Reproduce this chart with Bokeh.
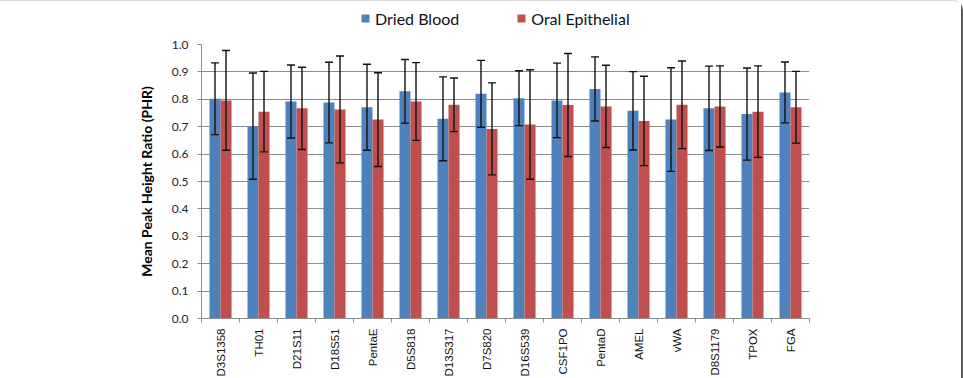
import numpy as np
from bokeh.plotting import figure
from bokeh.layouts import column
from bokeh.models import (ColumnDataSource, Whisker, TeeHead, Legend, LegendItem,
                          FixedTicker, Range1d)
from bokeh.embed import file_html
from bokeh.resources import INLINE

# STR loci and mean peak height ratios (with standard deviations)
loci = ["D3S1358", "TH01", "D21S11", "D18S51", "PentaE", "D5S818", "D13S317",
        "D7S820", "D16S539", "CSF1PO", "PentaD", "AMEL", "vWA", "D8S1179",
        "TPOX", "FGA"]
blood_mean = [0.802, 0.702, 0.792, 0.788, 0.771, 0.829, 0.729, 0.820,
              0.804, 0.796, 0.838, 0.758, 0.726, 0.767, 0.746, 0.825]
blood_sd = [0.131, 0.194, 0.133, 0.147, 0.157, 0.116, 0.153, 0.122,
            0.100, 0.136, 0.117, 0.143, 0.189, 0.154, 0.168, 0.111]
oral_mean = [0.796, 0.755, 0.767, 0.763, 0.726, 0.792, 0.780, 0.692,
             0.708, 0.779, 0.774, 0.721, 0.780, 0.774, 0.755, 0.771]
oral_sd = [0.182, 0.147, 0.150, 0.195, 0.171, 0.142, 0.098, 0.168,
           0.200, 0.188, 0.150, 0.163, 0.160, 0.148, 0.167, 0.131]
series_names = ["Dried Blood", "Oral Epithelial"]
y_ticks = [round(0.1 * i, 1) for i in range(11)]

BLUE = "#4F81BD"
RED = "#C0504D"
GRID = "#8C8C8C"
OFFSET = 0.145
BAR_W = 0.29
W = 961

centers = np.arange(len(loci)) + 0.5
blood_mean_a = np.array(blood_mean)
blood_sd_a = np.array(blood_sd)
oral_mean_a = np.array(oral_mean)
oral_sd_a = np.array(oral_sd)

blood_src = ColumnDataSource(dict(
    x=centers - OFFSET, top=blood_mean_a,
    upper=blood_mean_a + blood_sd_a, lower=blood_mean_a - blood_sd_a))
oral_src = ColumnDataSource(dict(
    x=centers + OFFSET, top=oral_mean_a,
    upper=oral_mean_a + oral_sd_a, lower=oral_mean_a - oral_sd_a))

# ---- main bar chart ----
p = figure(width=W, height=348, output_backend="svg", toolbar_location=None,
           x_range=Range1d(0, len(loci)), y_range=Range1d(0, 1.0),
           min_border_left=201, min_border_right=152, min_border_top=13,
           min_border_bottom=58)
p.outline_line_color = None
p.background_fill_color = "white"
p.border_fill_color = "white"

p.vbar(x="x", top="top", bottom=0, width=BAR_W, source=blood_src,
       fill_color=BLUE, line_color=None)
p.vbar(x="x", top="top", bottom=0, width=BAR_W, source=oral_src,
       fill_color=RED, line_color=None)

for src in (blood_src, oral_src):
    w = Whisker(source=src, base="x", upper="upper", lower="lower",
                dimension="height", line_color="#111111", line_width=1.4,
                upper_head=TeeHead(size=8, line_color="#111111", line_width=1.4),
                lower_head=TeeHead(size=8, line_color="#111111", line_width=1.4),
                level="annotation")
    p.add_layout(w)

# y axis
p.yaxis.ticker = FixedTicker(ticks=y_ticks)
p.yaxis.major_label_overrides = {t: f"{t:.1f}" for t in y_ticks}
p.yaxis.major_label_text_font = "Lato"
p.yaxis.major_label_text_font_size = "12px"
p.yaxis.major_label_text_color = "#222222"
p.yaxis.major_label_standoff = 9
p.yaxis.major_tick_in = 0
p.yaxis.major_tick_out = 4
p.yaxis.minor_tick_line_color = None
p.yaxis.axis_line_color = GRID
p.yaxis.major_tick_line_color = GRID
p.yaxis.axis_label = "Mean Peak Height Ratio (PHR)"
p.yaxis.axis_label_text_font = "Lato"
p.yaxis.axis_label_text_font_style = "bold"
p.yaxis.axis_label_text_font_size = "14px"
p.yaxis.axis_label_text_color = "#000000"
p.yaxis.axis_label_standoff = 14

# x axis: labels at locus centres, small ticks on the boundaries
p.xaxis.ticker = FixedTicker(ticks=list(centers),
                             minor_ticks=list(range(len(loci) + 1)))
p.xaxis.major_label_overrides = {float(c): name for c, name in zip(centers, loci)}
p.xaxis.major_label_orientation = np.pi / 2
p.xaxis.major_label_text_font = "Liberation Sans"
p.xaxis.major_label_text_font_size = "11.5px"
p.xaxis.major_label_text_color = "#111111"
p.xaxis.major_label_standoff = 6
p.xaxis.major_tick_in = 0
p.xaxis.major_tick_out = 0
p.xaxis.minor_tick_in = 0
p.xaxis.minor_tick_out = 4
p.xaxis.minor_tick_line_color = GRID
p.xaxis.axis_line_color = GRID

p.xgrid.grid_line_color = None
p.ygrid.grid_line_color = GRID
p.ygrid.grid_line_width = 1

# ---- legend strip above the chart (its frame lines up with the chart's) ----
lg = figure(width=W, height=30, output_backend="svg", toolbar_location=None,
            x_range=Range1d(0, 1), y_range=Range1d(0, 1),
            min_border=0)
lg.outline_line_color = None
lg.axis.visible = False
lg.grid.grid_line_color = None
# zero-height swatches, only used as legend keys
kb = lg.vbar(x=[0.5], top=[0.0], width=0.1, fill_color=BLUE, line_color=None)
kr = lg.vbar(x=[0.5], top=[0.0], width=0.1, fill_color=RED, line_color=None)

legend = Legend(items=[LegendItem(label=series_names[0], renderers=[kb]),
                       LegendItem(label=series_names[1], renderers=[kr])],
                orientation="horizontal", location=(159, 3),
                glyph_width=10, glyph_height=10, label_standoff=5,
                label_height=20, spacing=57, padding=0, margin=0,
                label_text_font="Lato", label_text_font_size="16px",
                label_text_color="#111111",
                border_line_color=None, background_fill_alpha=0)
lg.add_layout(legend, "center")

page = column(lg, p, spacing=0,
              styles={"border-right": "2px solid #5A5A5A",
                      "border-top": "1px solid #D8D8D8",
                      "border-top-right-radius": "10px"})

open("out.html", "w").write(file_html(page, INLINE))
